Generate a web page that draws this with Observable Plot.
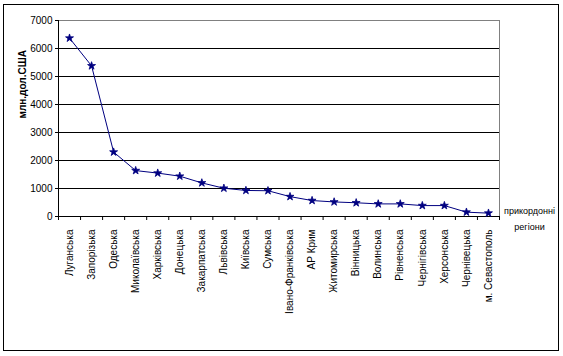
<!DOCTYPE html>
<html>
<head>
<meta charset="utf-8">
<script src="https://cdn.jsdelivr.net/npm/d3@7"></script>
<script src="https://cdn.jsdelivr.net/npm/@observablehq/plot@0.6"></script>
<style>
  html, body { margin: 0; padding: 0; background: #fff; }
  #wrap { position: relative; width: 563px; height: 356px; }
  #border { position: absolute; left: 3px; top: 4px; width: 556px; height: 347px; border: 1px solid #000; box-sizing: border-box; pointer-events: none; }
  #chart { position: absolute; left: 0; top: 0; }
</style>
</head>
<body>
<div id="wrap"><div id="chart"></div><div id="border"></div></div>
<script>
const regions = ["Луганська","Запорізька","Одеська","Миколаївська","Харківська","Донецька","Закарпатська","Львівська","Київська","Сумська","Івано-Франківська","АР Крим","Житомирська","Вінницька","Волинська","Рівненська","Чернігівська","Херсонська","Чернівецька","м. Севастополь"];
const values = [6370,5380,2300,1640,1550,1440,1200,1010,930,920,710,570,520,490,450,450,390,390,155,120];
const yTicks = [0,1000,2000,3000,4000,5000,6000,7000];
const yLabel = "млн.дол.США";
const xLabel = "прикордонні\nрегіони";

const data = regions.map((r, i) => ({region: r, pos: i + 0.5, value: values[i]}));
const font = "'Liberation Sans', Arial, sans-serif";

const chart = Plot.plot({
  width: 563,
  height: 356,
  marginLeft: 58,
  marginRight: 64,
  marginTop: 20,
  marginBottom: 140,
  style: {fontFamily: font, fontSize: "10px", background: "transparent", color: "#000"},
  x: {type: "linear", domain: [0, regions.length], axis: null},
  y: {domain: [0, 7000], axis: null},
  marks: [
    Plot.ruleY(yTicks.filter(d => d > 0 && d < 7000), {stroke: "#000", strokeWidth: 1}),
    Plot.ruleY([7000], {stroke: "#808080"}),
    Plot.ruleX([regions.length], {stroke: "#808080"}),
    Plot.ruleX([0], {stroke: "#000"}),
    Plot.ruleY([0], {stroke: "#000"}),
    Plot.axisY({ticks: yTicks, tickSize: 3, tickPadding: 3, tickFormat: d => String(d), label: null, fontSize: 10}),
    Plot.axisX({ticks: d3.range(0, regions.length + 1), tickSize: 4, tickFormat: () => "", label: null}),
    Plot.axisX({ticks: data.map(d => d.pos), tickSize: 0, tickPadding: 13, tickRotate: -90,
      tickFormat: p => regions[Math.floor(p)], label: null, fontSize: 10}),
    Plot.lineY(data, {x: "pos", y: "value", stroke: "#000080", strokeWidth: 1}),
    Plot.dot(data, {x: "pos", y: "value", symbol: "star", r: 2.5, fill: "#000080", stroke: "#000080", strokeWidth: 0.8}),
    Plot.text([yLabel], {frameAnchor: "left", dx: -36, dy: 0, rotate: -90, fontWeight: "bold", fontSize: 10, fill: "#000"}),
    Plot.text([xLabel], {frameAnchor: "bottom-right", dx: 30, dy: 0, textAnchor: "middle", lineAnchor: "middle", lineHeight: 1.8, fontSize: 9, fill: "#000"})
  ]
});
document.getElementById("chart").appendChild(chart);
</script>
</body>
</html>
